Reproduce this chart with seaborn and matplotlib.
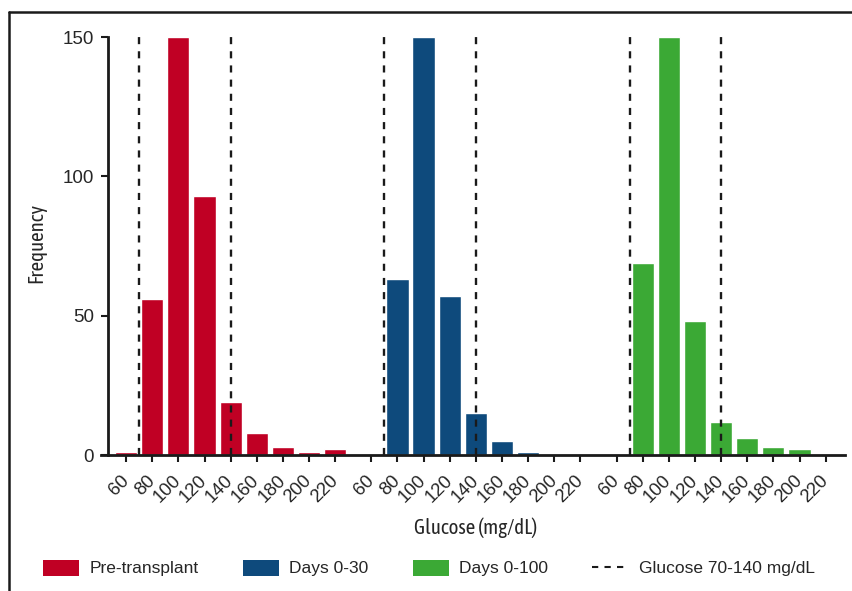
import numpy as np
import pandas as pd
import seaborn as sns
import matplotlib.pyplot as plt
from matplotlib.lines import Line2D
from matplotlib.patches import Patch
from matplotlib import font_manager
from matplotlib.font_manager import FontProperties
from matplotlib.transforms import ScaledTranslation

# Glucose bins (mg/dL) and frequency per bin for each period
bins = [60, 80, 100, 120, 140, 160, 180, 200, 220]
groups = ["Pre-transplant", "Days 0-30", "Days 0-100"]
pre_transplant = [1, 56, 150, 93, 19, 8, 3, 1, 2]
days_0_30 = [0, 63, 150, 57, 15, 5, 1, 0.5, 0]
days_0_100 = [0, 69, 150, 48, 12, 6, 3, 2, 0.5]
colors = ["#C00024", "#0E4A7C", "#3BA935"]
range_lo, range_hi = 70, 140
tick_labels = [str(b) for b in bins]

series = [pre_transplant, days_0_30, days_0_100]
group_step = len(bins) + 0.38          # gap between panels on the shared axis
bin_width = bins[1] - bins[0]

rows = []
for g, (name, vals) in enumerate(zip(groups, series)):
    for i, (b, v) in enumerate(zip(bins, vals)):
        rows.append({"pos": g * group_step + i, "freq": v, "group": name})
df = pd.DataFrame(rows)

sns.set_style("ticks")
plt.rcParams["font.family"] = ["Liberation Sans", "DejaVu Sans"]


def condensed_font(size):
    """Pick a condensed sans face for the axis titles if one is installed."""
    entries = font_manager.fontManager.ttflist
    prefs = [
        lambda f: f.name == "Liberation Sans Narrow" and f.weight in (400, "normal") and f.style == "normal",
        lambda f: "Condensed" in f.name and f.style == "normal" and f.weight in (400, "normal"),
        lambda f: f.name in ("DejaVu Sans", "Open Sans", "Roboto", "Noto Sans")
        and f.stretch in ("condensed", "semi-condensed", 75, 87.5)
        and f.style == "normal" and f.weight in (400, "normal"),
    ]
    for pref in prefs:
        hits = [f for f in entries if pref(f)]
        if hits:
            return FontProperties(fname=hits[0].fname, size=size), True
    return FontProperties(family="Liberation Sans", size=size * 0.82), False


fig = plt.figure(figsize=(8.53, 5.91), dpi=100)
ax = fig.add_axes([101 / 853, 1 - 455 / 591, (845 - 101) / 853, (455 - 37) / 591])

sns.barplot(data=df, x="pos", y="freq", hue="group", palette=colors,
            hue_order=groups, native_scale=True, dodge=False, width=0.85,
            saturation=1, legend=False, ax=ax)

# Target range lines (70 and 140 mg/dL) within each panel
for g in range(len(groups)):
    for val in (range_lo, range_hi):
        xpos = g * group_step + (val - bins[0]) / bin_width
        ax.axvline(xpos, color="#1a1a1a", lw=1.7, ls=(0, (3, 3)), zorder=3)

ticks = [g * group_step + i for g in range(len(groups)) for i in range(len(bins))]
ax.set_xticks(ticks)
ax.set_xticklabels(tick_labels * len(groups), rotation=45, ha="right",
                   va="center", rotation_mode="anchor", fontsize=13.3)
shift = ScaledTranslation(6 / 100, 0, fig.dpi_scale_trans)
for lab in ax.get_xticklabels():
    lab.set_transform(lab.get_transform() + shift)
ax.set_xlim(-0.96, 27.5)
ax.set_ylim(0, 150)
ax.set_yticks([0, 50, 100, 150])
ax.tick_params(axis="y", labelsize=13.5, length=5, width=1.5, color="#1a1a1a", pad=5)
ax.tick_params(axis="x", length=5, width=1.5, color="#1a1a1a", pad=11.5)

sns.despine(ax=ax)
ax.spines["left"].set_position(("outward", -5))
for s in ("left", "bottom"):
    ax.spines[s].set_linewidth(2)
    ax.spines[s].set_color("#1a1a1a")

title_font, _ = condensed_font(15)
ax.set_xlabel("Glucose (mg/dL)", fontproperties=title_font)
ax.set_ylabel("Frequency", fontproperties=title_font)
ax.xaxis.set_label_coords((476 - 101) / 744, -(518 - 455) / 418)
ax.yaxis.set_label_coords(-(101 - 46) / 744, (455 - 243) / 418)

handles = [Patch(facecolor=c, edgecolor="none") for c in colors]
handles.append(Line2D([0], [0], color="#1a1a1a", lw=1.5, ls=(0, (3, 3))))
labels = groups + ["Glucose 70-140 mg/dL"]
fig.legend(handles, labels, loc="center left",
           bbox_to_anchor=(43 / 853, 1 - 568 / 591), ncol=4, frameon=False,
           fontsize=12.5, handlelength=2.1, handleheight=1.05,
           handletextpad=0.57, columnspacing=2.55, borderpad=0,
           borderaxespad=0)

# Panel frame lines along the top and left edges
fig.add_artist(Line2D([9 / 853, 1], [1 - 12 / 591, 1 - 12 / 591],
                      color="#1a1a1a", lw=1.8, transform=fig.transFigure))
fig.add_artist(Line2D([9 / 853, 9 / 853], [0, 1 - 12 / 591],
                      color="#1a1a1a", lw=1.8, transform=fig.transFigure))

fig.savefig("out.png", dpi=100)
